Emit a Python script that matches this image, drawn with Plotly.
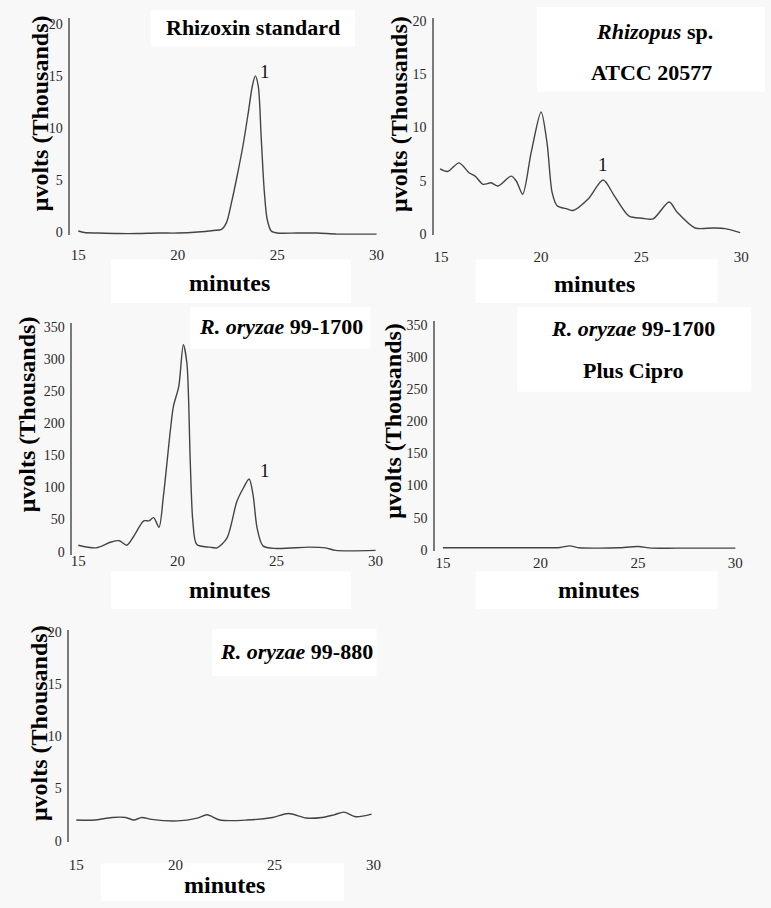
import plotly.graph_objects as go

W, H = 771, 908

# ---------------- data ----------------
std_t = [15.0, 15.3, 16, 17, 18, 19, 20, 21, 21.8, 22.2, 22.45, 22.7, 23.0, 23.3, 23.55, 23.75, 23.9,
         24.05, 24.2, 24.35, 24.5, 24.7, 25, 26, 27, 28, 29, 30]
std_v = [0.1, -0.05, -0.1, -0.15, -0.15, -0.1, -0.1, 0.0, 0.15, 0.25, 0.9, 2.8, 5.5, 8.5, 11.5, 14.0, 15.0,
         14.0, 9.0, 4.0, 1.2, 0.1, -0.1, -0.1, -0.1, -0.2, -0.2, -0.2]

atcc_t = [14.95, 15.33, 15.9, 16.4, 16.7, 17.1, 17.5, 17.85, 18.5, 18.76, 19.08, 19.5, 20.0, 20.3, 20.55,
          20.8, 21.3, 21.6, 22.35, 23.1, 23.66, 24.4, 25.05, 25.6, 26.4, 26.8, 27.7, 28.6, 29.2, 29.95]
atcc_v = [6.1, 5.86, 6.67, 5.74, 5.43, 4.66, 4.8, 4.5, 5.43, 4.97, 3.73, 7.6, 11.45, 8.5, 3.9,
          2.65, 2.35, 2.2, 3.27, 5.06, 3.58, 1.67, 1.48, 1.42, 3.0, 2.04, 0.56, 0.56, 0.5, 0.12]

ro1700_t = [15.0, 15.9, 16.65, 17.07, 17.45, 17.8, 18.3, 18.57, 18.8, 19.07, 19.3, 19.65, 19.8, 20.07,
            20.3, 20.48, 20.65, 20.78, 20.98, 21.65, 22.0, 22.5, 23.0, 23.33, 23.62, 23.82, 24.02,
            24.32, 24.98, 26.65, 27.48, 27.98, 30.0]
ro1700_v = [10, 6, 15, 17, 10, 24, 48, 48, 53, 38, 88, 190, 226, 257,
            322, 293, 139, 47, 11, 7, 6, 21, 78, 99, 113, 88, 37,
            9, 5, 7, 6, 2, 2]

cipro_t = [15, 18, 20, 21.0, 21.5, 22.0, 23, 24, 25.0, 25.7, 27, 30]
cipro_v = [3, 3, 3, 3.5, 6, 3, 2.5, 3, 5, 2.5, 2.5, 2.5]

ro880_t = [15.0, 15.9, 16.8, 17.5, 17.9, 18.3, 18.8, 20.1, 21.1, 21.6, 22.25, 23.6, 24.9, 25.7, 26.6,
           27.4, 28.0, 28.5, 29.1, 29.9]
ro880_v = [1.98, 1.98, 2.23, 2.23, 1.98, 2.23, 2.04, 1.9, 2.17, 2.48, 1.98, 1.98, 2.23, 2.6, 2.17,
           2.23, 2.48, 2.74, 2.3, 2.55]

x_ticks = [15, 20, 25, 30]
y_ticks_small = [0, 5, 10, 15, 20]
y_ticks_big = [0, 50, 100, 150, 200, 250, 300, 350]

# ---------------- layout helpers ----------------
def px(x):
    return x / W

def py(y):
    return 1 - y / H

SERIF = "Liberation Serif"
LINE = "#444444"
AXIS = "#7a7a7a"
TICK = "#2a2a2a"

panels = [
    # data, x domain px, y domain px (top, bottom), x range, y range, yticks, x-label standoff
    (std_t, std_v, (69, 380), (13, 233), (14.60, 30.10), (-0.28, 20.57), y_ticks_small, 9),
    (atcc_t, atcc_v, (436, 750), (13, 233), (14.65, 30.2), (-0.09, 20.28), y_ticks_small, 11),
    (ro1700_t, ro1700_v, (71, 380), (322, 557), (14.7, 30.15), (-4.6, 356), y_ticks_big, -5),
    (cipro_t, cipro_v, (437, 745), (320, 553), (14.59, 30.25), (-1.5, 357), y_ticks_big, 1),
    (ro880_t, ro880_v, (68, 380), (633, 848), (14.65, 30.25), (-0.1, 20.2), y_ticks_small, 12),
]

fig = go.Figure()
layout = {}
for i, (t, v, xd, yd, xr, yr, yt, so) in enumerate(panels, start=1):
    xa = "x" if i == 1 else f"x{i}"
    ya = "y" if i == 1 else f"y{i}"
    fig.add_trace(go.Scatter(x=t, y=v, xaxis=xa, yaxis=ya, mode="lines",
                             line=dict(color=LINE, width=1.4, shape="spline", smoothing=0.8),
                             showlegend=False, hoverinfo="skip"))
    xkey = "xaxis" if i == 1 else f"xaxis{i}"
    ykey = "yaxis" if i == 1 else f"yaxis{i}"
    layout[xkey] = dict(domain=[px(xd[0]), px(xd[1])], range=list(xr), anchor=ya,
                        tickvals=x_ticks, showgrid=False, zeroline=False, showline=False,
                        ticks="", ticklabelstandoff=so,
                        tickfont=dict(family=SERIF, size=15, color=TICK))
    layout[ykey] = dict(domain=[py(yd[1]), py(yd[0])], range=list(yr), anchor=xa,
                        tickvals=yt, showgrid=False, zeroline=False, showline=True,
                        linecolor=AXIS, linewidth=1.5, ticks="", ticklabelstandoff=3,
                        tickfont=dict(family=SERIF, size=14, color=TICK))

# white backdrop boxes behind the text blocks (as in the source figure)
boxes = [
    (110, 258, 352, 302), (478, 258, 722, 302),
    (110, 574, 352, 612), (478, 574, 722, 612),
    (100, 870, 345, 908),
    (150, 5, 356, 42), (540, 2, 770, 88),
    (190, 306, 372, 348), (520, 306, 756, 392),
    (212, 632, 378, 680),
]
shapes = []
for (x0, y0, x1, y1) in boxes:
    shapes.append(dict(type="rect", xref="paper", yref="paper",
                       x0=px(x0), x1=px(x1), y0=py(y1), y1=py(y0),
                       fillcolor="#ffffff", line=dict(width=0), layer="below"))

ann = []
def text(x, y, s, size, bold=True, angle=0):
    ann.append(dict(x=px(x), y=py(y), xref="paper", yref="paper", text=(f"<b>{s}</b>" if bold else s),
                    showarrow=False, xanchor="center", yanchor="middle", textangle=angle,
                    font=dict(family=SERIF, size=size, color="#000000")))

ytitle = "μvolts (Thousands)"
for (x, y) in [(38, 110), (400, 110), (25, 415), (395, 421), (38, 728)]:
    text(x, y, ytitle, 24, angle=-90)
for (x, y) in [(230, 282), (598, 283), (230, 593), (602, 593), (225, 892)]:
    text(x, y, "minutes", 24)

text(253, 23, "Rhizoxin standard", 22)
text(658, 27, "<i>Rhizopus</i> sp.", 22)
text(655, 68, "ATCC 20577", 22)
text(282, 326, "<i>R. oryzae</i> 99-1700", 22)
text(637, 328, "<i>R. oryzae</i> 99-1700", 22)
text(637, 370, "Plus Cipro", 22)
text(297, 655, "<i>R. oryzae</i> 99-880", 22)

# peak labels in data coordinates
peaks = [("x", "y", 24.4, 15.45), ("x2", "y2", 23.1, 6.5), ("x3", "y3", 24.4, 126)]
for xr_, yr_, xv, yv in peaks:
    ann.append(dict(x=xv, y=yv, xref=xr_, yref=yr_, text="1", showarrow=False,
                    font=dict(family=SERIF, size=19, color="#111111")))

fig.update_layout(width=W, height=H, margin=dict(l=0, r=0, t=0, b=0),
                  paper_bgcolor="#f8f8f8", plot_bgcolor="rgba(0,0,0,0)",
                  shapes=shapes, annotations=ann, **layout)

fig.write_html("out.html", config={"displayModeBar": False},
               post_script="document.body.style.margin='0px';document.body.style.overflow='hidden';")
